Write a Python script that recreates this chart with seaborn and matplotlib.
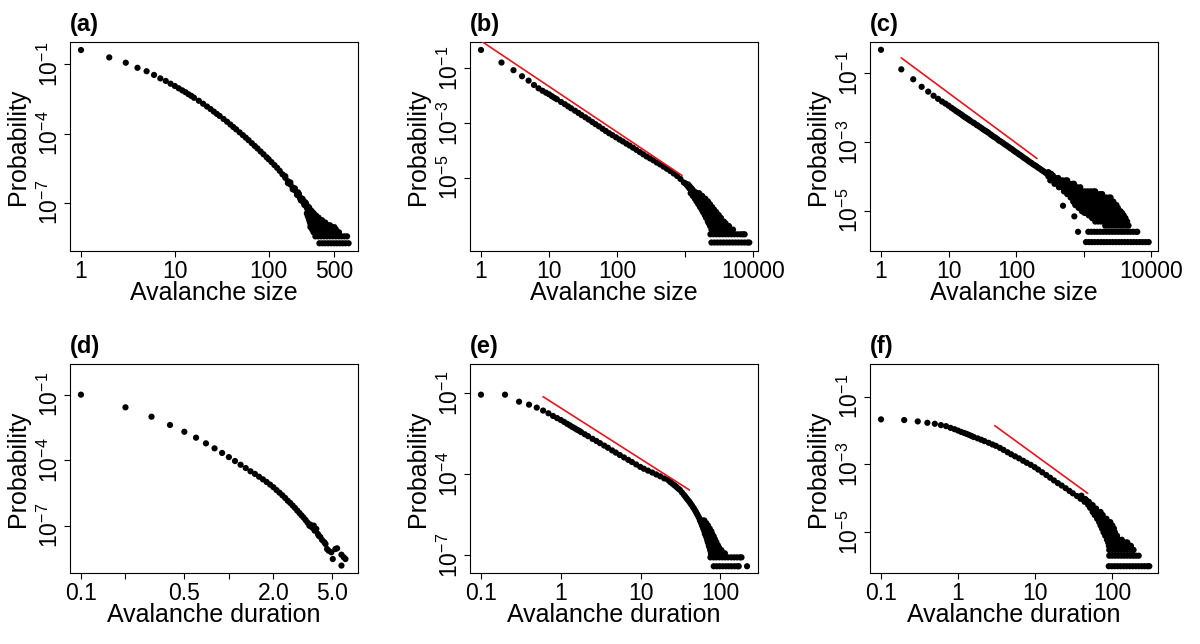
import numpy as np
import matplotlib
matplotlib.use("Agg")
import matplotlib.pyplot as plt
from matplotlib.ticker import NullLocator, FixedLocator, FixedFormatter
import seaborn as sns

# ---------------- data (probabilities stored as log10) ----------------
# Each panel: the main sequence of points, plus the tail "rows" where many
# sizes share the same (small) count, i.e. the same probability level.

# (a) avalanche size
a_size = [
    1, 2, 3, 4, 5, 6, 7, 8, 9, 10,
    11, 12, 13, 14, 15, 16, 18, 20, 22, 24,
    26, 28, 30, 33, 36, 39, 42, 45, 49, 53,
    57, 61, 66, 71, 76, 82, 88, 95, 100, 107,
    115, 123, 131, 140, 150, 160, 170, 180, 190, 200,
    210, 220, 230, 240, 250, 260, 270, 280, 290, 300,
    150, 160, 170, 180, 190, 200, 210, 220, 230, 240,
    250, 260, 270, 280, 290, 300, 300,
    205, 215, 225, 235, 245, 255, 265, 275, 285, 295,
    278,
]
a_logp = [
    -0.38, -0.70, -0.93, -1.15, -1.30, -1.46, -1.61, -1.72, -1.84, -1.94,
    -2.04, -2.13, -2.21, -2.30, -2.37, -2.45, -2.58, -2.71, -2.83, -2.94,
    -3.05, -3.15, -3.24, -3.37, -3.49, -3.61, -3.72, -3.82, -3.95, -4.07,
    -4.18, -4.29, -4.42, -4.54, -4.65, -4.78, -4.90, -5.03, -5.12, -5.24,
    -5.37, -5.49, -5.62, -5.77, -5.92, -6.07, -6.21, -6.34, -6.46, -6.58,
    -6.70, -6.81, -6.91, -7.02, -7.11, -7.21, -7.30, -7.39, -7.48, -7.56,
    -5.85, -6.15, -6.12, -6.42, -6.38, -6.66, -6.62, -6.90, -6.84, -7.10,
    -7.04, -7.30, -7.22, -7.48, -7.40, -7.66, -7.46,
    -6.55, -6.80, -6.82, -7.00, -6.98, -7.22, -7.18, -7.42, -7.35, -7.60,
    -8.06,
]
a_row_logp = [-7.46, -7.56, -7.65, -7.76, -7.86, -7.98, -8.06, -8.16, -8.28, -8.46, -8.76]
a_row_sizes = [
    [255, 275, 300],
    [260, 280, 300, 320],
    [265, 285, 306, 328, 340],
    [270, 291, 313, 337, 370],
    [275, 296, 318, 342, 368, 400],
    [280, 301, 323, 347, 373, 400, 430, 450],
    [285, 306, 329, 353, 379, 407, 437, 469, 500],
    [290, 312, 335, 360, 387, 416, 447, 480, 520],
    [300, 322, 346, 372, 400, 430, 462, 496, 532, 560],
    [314, 337, 362, 389, 418, 449, 482, 518, 556, 597, 641, 684],
    [347, 373, 400, 430, 462, 496, 532, 571, 613, 658, 710],
]

# (b) avalanche size
b_size = [
    1, 2, 3, 4, 5, 6, 7, 8, 9, 10,
    11, 12, 13, 15, 17, 19, 21, 24, 27, 30,
    34, 38, 43, 48, 54, 61, 68, 76, 85, 96,
    108, 121, 136, 152, 171, 192, 215, 241, 270, 303,
    340, 381, 427, 479, 537, 602, 675, 757, 849, 952,
    1000, 1050, 1100, 1150, 1200, 1260, 1330, 1100, 1200, 1300,
    1400, 1250, 1150,
]
b_logp = [
    -0.33, -0.79, -1.07, -1.29, -1.45, -1.61, -1.73, -1.82, -1.89, -1.95,
    -2.02, -2.08, -2.13, -2.23, -2.31, -2.39, -2.46, -2.55, -2.63, -2.71,
    -2.79, -2.87, -2.96, -3.04, -3.12, -3.21, -3.29, -3.37, -3.44, -3.52,
    -3.60, -3.67, -3.75, -3.82, -3.90, -3.98, -4.06, -4.14, -4.22, -4.29,
    -4.36, -4.44, -4.51, -4.59, -4.67, -4.75, -4.84, -4.93, -5.04, -5.17,
    -5.20, -5.26, -5.32, -5.38, -5.44, -5.50, -5.56, -5.24, -5.36, -5.46,
    -5.52, -5.40, -5.30,
]
b_row_logp = [-5.56, -5.66, -5.76, -5.86, -5.96, -6.06, -6.16, -6.25,
              -6.36, -6.46, -6.59, -6.66, -6.76, -6.89, -7.06, -7.36]
b_row_sizes = [
    [1200, 1330, 1470, 1600],
    [1290, 1430, 1580, 1770],
    [1380, 1530, 1690, 1870, 1970],
    [1460, 1620, 1790, 1980, 2150],
    [1550, 1720, 1900, 2100, 2300],
    [1640, 1820, 2010, 2230, 2470],
    [1740, 1930, 2130, 2360, 2650],
    [1820, 2010, 2230, 2470, 2850],
    [1930, 2140, 2370, 2620, 2900, 3100],
    [2020, 2240, 2480, 2740, 3030, 3330],
    [2140, 2370, 2620, 2900, 3210, 3660],
    [2210, 2450, 2710, 3000, 3320, 3680, 3900],
    [2310, 2560, 2830, 3130, 3470, 3840, 4100, 4380],
    [2420, 2680, 2970, 3290, 3640, 4030, 4460, 5020],
    [2340, 2590, 2870, 3180, 3520, 3900, 4310, 4770, 5280, 5850, 6470, 7000, 7430],
    [2420, 2680, 2970, 3290, 3640, 4030, 4460, 4940, 5470, 6050, 6700, 7420, 8210, 8700],
]
b_fit_size = [1, 894]
b_fit_logp = [0.0, -4.913]

# (c) avalanche size
c_size = [
    1, 2, 3, 4, 5, 6, 7, 8, 9, 10,
    11, 12, 13, 14, 15, 16, 17, 18, 19, 20,
    21, 23, 24, 26, 27, 29, 31, 33, 35, 37,
    39, 42, 44, 47, 50, 53, 56, 60, 64, 68,
    72, 77, 82, 87, 92, 98, 104, 110, 117, 124,
    132, 140, 149, 158, 168, 178, 189, 200, 212, 225,
    239, 253, 269, 285, 302, 320, 340, 360, 382, 405,
    430, 455, 482, 510, 542, 575, 330, 380, 420, 470,
    520, 560, 300, 300, 350, 350, 400, 400, 450, 450,
    500, 500, 550, 550, 727, 824, 494,
]
c_logp = [
    -0.31, -0.88, -1.17, -1.39, -1.53, -1.65, -1.74, -1.82, -1.88, -1.94,
    -2.00, -2.05, -2.10, -2.14, -2.18, -2.22, -2.26, -2.29, -2.32, -2.35,
    -2.38, -2.43, -2.45, -2.50, -2.52, -2.56, -2.60, -2.64, -2.67, -2.70,
    -2.73, -2.78, -2.81, -2.85, -2.88, -2.92, -2.96, -2.99, -3.03, -3.07,
    -3.10, -3.14, -3.18, -3.21, -3.25, -3.29, -3.32, -3.36, -3.39, -3.43,
    -3.47, -3.50, -3.54, -3.58, -3.61, -3.65, -3.68, -3.71, -3.75, -3.78,
    -3.82, -3.85, -3.89, -3.92, -3.95, -3.98, -4.02, -4.05, -4.08, -4.12,
    -4.15, -4.18, -4.21, -4.25, -4.28, -4.32, -3.93, -4.12, -4.05, -4.25,
    -4.18, -4.36, -3.88, -4.00, -3.98, -4.08, -4.06, -4.16, -4.12, -4.24,
    -4.18, -4.32, -4.24, -4.38, -5.17, -5.62, -4.86,
]
c_row_logp = [-4.12, -4.22, -4.32, -4.44, -4.52, -4.62, -4.74, -4.84, -4.92,
              -5.02, -5.07, -5.14, -5.22, -5.32, -5.44, -5.62, -5.92]
c_row_sizes = [
    [320, 355, 395, 440, 490, 545, 570],
    [370, 410, 455, 505, 560, 620, 690, 720],
    [430, 475, 530, 585, 650, 720, 800, 890],
    [510, 565, 625, 690, 765, 850, 940, 1040, 1150, 1270, 1400, 1480],
    [570, 630, 700, 775, 860, 950, 1050, 1160, 1290, 1420, 1580, 1750, 1880],
    [640, 710, 785, 870, 960, 1060, 1180, 1300, 1440, 1600, 1770, 1960, 2170, 2400, 2500],
    [700, 775, 860, 950, 1050, 1160, 1290, 1430, 1580, 1750, 1940, 2150, 2380, 2630, 2750],
    [750, 830, 920, 1020, 1130, 1250, 1380, 1530, 1700, 1880, 2080, 2300, 2550, 2820, 3050],
    [840, 930, 1030, 1140, 1260, 1400, 1550, 1710, 1900, 2100, 2320, 2570, 2850, 3200],
    [940, 1040, 1150, 1280, 1410, 1560, 1730, 1920, 2120, 2350, 2600, 2880, 3190, 3500],
    [1030, 1140, 1260, 1400, 1550, 1710, 1900, 2100, 2320, 2570, 2850, 3150, 3490, 3700],
    [1190, 1320, 1460, 1610, 1790, 1980, 2190, 2420, 2680, 2970, 3290, 3640, 3900],
    [1330, 1470, 1630, 1800, 2000, 2210, 2450, 2710, 3000, 3320, 3680, 3900, 4150],
    [1480, 1640, 1810, 2010, 2220, 2460, 2720, 3010, 3340, 3690, 4090, 4400],
    [2080, 2300, 2550, 2820, 3120, 3460, 3830, 4240, 4600],
    [1170, 1300, 1440, 1590, 1760, 1950, 2160, 2390, 2650, 2930, 3250, 3600, 3980,
     4410, 4880, 5400, 5980, 6200],
    [1080, 1200, 1320, 1460, 1620, 1800, 1990, 2200, 2440, 2700, 2990, 3310, 3660,
     4050, 4490, 4970, 5500, 6090, 6740, 7460, 8260, 9150],
]
c_fit_size = [2, 204]
c_fit_logp = [-0.546, -3.483]

# (d) avalanche duration
d_dur = [
    0.1, 0.2, 0.3, 0.4, 0.5, 0.6, 0.7, 0.8, 0.9, 1.0,
    1.1, 1.2, 1.3, 1.4, 1.5, 1.6, 1.7, 1.8, 1.9, 2.0,
    2.1, 2.2, 2.3, 2.4, 2.5, 2.6, 2.7, 2.8, 2.9, 3.0,
    3.1, 3.2, 3.3, 3.4, 3.5, 3.55, 3.6, 3.7, 3.75, 3.8,
    3.9, 4.0, 4.05, 4.15, 4.27, 4.42, 4.5, 4.61, 4.73, 4.93,
    5.04, 5.25, 5.39, 5.77, 5.98, 6.14, 5.77,
]
d_logp = [
    -1.00, -1.58, -2.01, -2.39, -2.70, -2.97, -3.23, -3.46, -3.67, -3.86,
    -4.04, -4.21, -4.36, -4.51, -4.63, -4.76, -4.88, -5.00, -5.12, -5.24,
    -5.37, -5.49, -5.61, -5.73, -5.86, -5.96, -6.08, -6.19, -6.31, -6.42,
    -6.53, -6.63, -6.74, -6.86, -7.00, -6.95, -7.05, -7.11, -7.00, -7.23,
    -7.15, -7.38, -7.46, -7.52, -7.66, -7.76, -7.84, -8.07, -8.15, -8.22,
    -8.53, -8.07, -8.04, -8.33, -8.45, -8.53, -8.83,
]
d_row_logp = []
d_row_sizes = []

# (e) avalanche duration
e_dur = [
    0.1, 0.2, 0.3, 0.4, 0.5, 0.6, 0.7, 0.8, 0.9, 1.0,
    1.1, 1.2, 1.3, 1.4, 1.5, 1.6, 1.7, 1.8, 2.0, 2.2,
    2.5, 2.8, 3.1, 3.5, 3.9, 4.4, 4.9, 5.5, 6.2, 7.0,
    7.8, 8.8, 9.9, 11, 12.4, 14, 15.7, 17.6, 19.8, 22.2,
    23.5, 25, 26.5, 28, 29.5, 31, 33, 35, 36.5, 38,
    39.5, 41, 42.5, 44, 45.5, 47, 48.5, 50, 51.5, 53,
    54.5, 56, 58, 60, 62, 64, 66, 68,
]
e_logp = [
    -1.05, -1.05, -1.31, -1.42, -1.53, -1.64, -1.74, -1.84, -1.92, -1.99,
    -2.06, -2.13, -2.19, -2.25, -2.30, -2.35, -2.39, -2.44, -2.52, -2.59,
    -2.69, -2.77, -2.85, -2.94, -3.02, -3.12, -3.20, -3.29, -3.38, -3.47,
    -3.55, -3.64, -3.73, -3.80, -3.87, -3.94, -4.01, -4.08, -4.16, -4.22,
    -4.29, -4.35, -4.41, -4.47, -4.53, -4.58, -4.68, -4.77, -4.84, -4.91,
    -4.97, -5.03, -5.10, -5.16, -5.23, -5.29, -5.36, -5.43, -5.50, -5.57,
    -5.64, -5.72, -5.80, -5.89, -5.97, -6.06, -6.14, -6.22,
]
e_row_logp = [-5.72, -5.82, -5.91, -6.02, -6.12, -6.22, -6.31, -6.42,
              -6.52, -6.64, -6.72, -6.82, -6.94, -7.09, -7.42]
e_row_sizes = [
    [55.5, 60, 63],
    [57.5, 62.5, 66.6],
    [59, 64, 70],
    [61, 66.5, 73.5],
    [63, 68.5, 74, 77],
    [64, 70, 76, 79],
    [66, 72, 78, 82.5],
    [68, 74, 80.5, 85.5],
    [69.5, 76, 83, 89],
    [71.5, 78, 85, 93],
    [73, 79.5, 86.5, 96],
    [74.5, 81, 88.5, 96.5, 103],
    [76, 83, 90, 98, 107, 114],
    [75, 82, 89, 97, 106, 115, 125, 137, 149, 162, 176, 184],
    [82.6, 90, 98, 107, 117, 127, 138, 151, 164, 170, 216],
]
e_fit_dur = [0.6, 41]
e_fit_logp = [-1.124, -4.589]

# (f) avalanche duration
f_dur = [
    0.1, 0.2, 0.3, 0.4, 0.5, 0.6, 0.7, 0.8, 0.9, 1.0,
    1.1, 1.2, 1.3, 1.4, 1.5, 1.6, 1.8, 2.0, 2.2, 2.5,
    2.8, 3.1, 3.5, 3.9, 4.4, 4.9, 5.5, 6.2, 7.0, 7.8,
    8.8, 9.9, 11, 12.4, 14, 15.7, 17.6, 19.8, 22.2, 25,
    28, 31, 35, 39, 44, 49, 54, 60, 66, 72,
    78, 85,
    46, 42, 40, 45, 48, 53, 50, 52, 56, 58,
    62, 64,
]
f_logp = [
    -1.67, -1.69, -1.73, -1.77, -1.80, -1.84, -1.87, -1.92, -1.96, -2.00,
    -2.04, -2.07, -2.10, -2.13, -2.16, -2.19, -2.23, -2.27, -2.31, -2.36,
    -2.41, -2.45, -2.51, -2.57, -2.64, -2.70, -2.76, -2.82, -2.89, -2.95,
    -3.01, -3.08, -3.15, -3.23, -3.31, -3.39, -3.47, -3.55, -3.62, -3.70,
    -3.78, -3.85, -3.93, -4.01, -4.10, -4.19, -4.26, -4.35, -4.47, -4.60,
    -4.72, -4.84,
    -4.05, -4.02, -3.92, -4.02, -4.12, -4.18, -4.10, -4.28, -4.20, -4.40,
    -4.30, -4.52,
]
f_row_logp = [-4.40, -4.49, -4.60, -4.70, -4.80, -4.89, -5.00, -5.10,
              -5.22, -5.30, -5.40, -5.52, -5.69, -6.00]
f_row_sizes = [
    [56, 61, 66, 71],
    [59.5, 65, 71, 75.6],
    [64, 70, 76.5, 80, 84.6],
    [68, 74.5, 81.5, 89, 95],
    [71, 77.5, 85, 93, 101],
    [74, 81, 88.5, 97, 106],
    [77.5, 85, 93, 101, 109],
    [81.5, 89, 97.5, 106.5, 116],
    [86, 94, 103, 112.5, 123, 134],
    [89, 97.5, 106.5, 116.5, 127.5, 139.5, 152.5, 158],
    [91, 99.5, 109, 119, 130, 142, 155.5, 170, 176],
    [92, 100.5, 110, 120.5, 132, 144, 157.5, 172, 188, 190],
    [92, 100.5, 110, 120.5, 132, 144, 157.5, 172, 188, 205, 222],
    [90.6, 99, 108.5, 118.5, 129.5, 142, 155, 169.5, 185.5, 203, 222, 243, 265, 290, 305],
]
f_fit_dur = [3.0, 48.3]
f_fit_logp = [-1.855, -3.85]

panel_names = ["(a)", "(b)", "(c)", "(d)", "(e)", "(f)"]
x_titles = ["Avalanche size"] * 3 + ["Avalanche duration"] * 3
y_title = "Probability"

size_ticks = [1, 10, 100, 1000, 10000]
size_tick_labels = ["1", "10", "100", "", "10000"]
dur_ticks = [0.1, 1, 10, 100]
dur_tick_labels = ["0.1", "1", "10", "100"]

# ---------------- style ----------------
sns.set_theme(style="ticks")
plt.rcParams["font.family"] = ["Liberation Sans", "DejaVu Sans"]
plt.rcParams["mathtext.fontset"] = "custom"
plt.rcParams["mathtext.rm"] = "Liberation Sans"
plt.rcParams["mathtext.it"] = "Liberation Sans:italic"
plt.rcParams["mathtext.bf"] = "Liberation Sans:bold"
plt.rcParams["axes.linewidth"] = 0.8
plt.rcParams["axes.edgecolor"] = "black"

panels = [
    dict(x=a_size, y=a_logp, rows=(a_row_sizes, a_row_logp), fit=None,
         xlim=(-0.114, 2.948), ylim=(-9.095, -0.032),
         xt=[1, 10, 100, 500], xl=["1", "10", "100", "500"], yt=[-1, -4, -7]),
    dict(x=b_size, y=b_logp, rows=(b_row_sizes, b_row_logp), fit=(b_fit_size, b_fit_logp),
         xlim=(-0.157, 4.063), ylim=(-7.67, -0.04),
         xt=size_ticks, xl=size_tick_labels, yt=[-1, -3, -5]),
    dict(x=c_size, y=c_logp, rows=(c_row_sizes, c_row_logp), fit=(c_fit_size, c_fit_logp),
         xlim=(-0.158, 4.095), ylim=(-6.18, -0.082),
         xt=size_ticks, xl=size_tick_labels, yt=[-1, -3, -5]),
    dict(x=d_dur, y=d_logp, rows=(d_row_sizes, d_row_logp), fit=None,
         xlim=(-1.072, 0.871), ylim=(-9.17, 0.405),
         xt=[0.1, 0.2, 0.5, 1.0, 2.0, 5.0], xl=["0.1", "", "0.5", "", "2.0", "5.0"],
         yt=[-1, -4, -7]),
    dict(x=e_dur, y=e_logp, rows=(e_row_sizes, e_row_logp), fit=(e_fit_dur, e_fit_logp),
         xlim=(-1.134, 2.468), ylim=(-7.67, 0.089),
         xt=dur_ticks, xl=dur_tick_labels, yt=[-1, -4, -7]),
    dict(x=f_dur, y=f_logp, rows=(f_row_sizes, f_row_logp), fit=(f_fit_dur, f_fit_logp),
         xlim=(-1.139, 2.593), ylim=(-6.20, -0.037),
         xt=dur_ticks, xl=dur_tick_labels, yt=[-1, -3, -5]),
]

W_FIG, H_FIG = 1200, 644
fig = plt.figure(figsize=(12, 6.44), dpi=100)
fig.patch.set_facecolor("white")
lefts = [70.3, 470.3, 870.3]
tops = [42, 364]
W, H = 287.4, 209

for i, p in enumerate(panels):
    r, c = divmod(i, 3)
    assert len(p["x"]) == len(p["y"]), (i, len(p["x"]), len(p["y"]))
    xs = list(p["x"])
    ys = list(p["y"])
    for row_sizes, level in zip(*p["rows"]):
        xs.extend(row_sizes)
        ys.extend([level] * len(row_sizes))
    xs = np.array(xs, dtype=float)
    ys = 10.0 ** np.array(ys, dtype=float)

    ax = fig.add_axes([lefts[c] / W_FIG, 1 - (tops[r] + H) / H_FIG, W / W_FIG, H / H_FIG])
    ax.set_facecolor("white")
    ax.set_xscale("log")
    ax.set_yscale("log")
    sns.scatterplot(x=xs, y=ys, ax=ax, s=20, color="black", linewidth=0,
                    edgecolor="none", zorder=3)
    if p["fit"] is not None:
        fx = np.array(p["fit"][0], dtype=float)
        fy = 10.0 ** np.array(p["fit"][1], dtype=float)
        sns.lineplot(x=fx, y=fy, ax=ax, color="#e8141b", linewidth=1.2,
                     estimator=None, sort=False, zorder=4)
    ax.set_xlim(10 ** p["xlim"][0], 10 ** p["xlim"][1])
    ax.set_ylim(10 ** p["ylim"][0], 10 ** p["ylim"][1])

    ax.xaxis.set_major_locator(FixedLocator(p["xt"]))
    ax.xaxis.set_major_formatter(FixedFormatter(p["xl"]))
    ax.xaxis.set_minor_locator(NullLocator())
    yt = [10.0 ** e for e in p["yt"]]
    ax.yaxis.set_major_locator(FixedLocator(yt))
    ax.yaxis.set_major_formatter(FixedFormatter(["$10^{%d}$" % e for e in p["yt"]]))
    ax.yaxis.set_minor_locator(NullLocator())

    ax.tick_params(axis="both", direction="out", length=4.2, width=0.8,
                   color="black", labelcolor="black", labelsize=16.5)
    ax.tick_params(axis="x", pad=2.5)
    ax.tick_params(axis="y", pad=1.0, labelrotation=90)
    for lab in ax.get_yticklabels():
        lab.set_verticalalignment("center")

    for sp in ax.spines.values():
        sp.set_visible(True)
        sp.set_color("black")
        sp.set_linewidth(0.8)

    ax.set_xlabel(x_titles[i], fontsize=18, color="black")
    ax.xaxis.set_label_coords(0.5, -0.145)
    ax.set_ylabel(y_title, fontsize=18, color="black")
    ax.yaxis.set_label_coords(-0.140, 0.5)

    ax.annotate(panel_names[i], xy=(0, 1), xycoords="axes fraction",
                xytext=(0, 8), textcoords="offset points",
                ha="left", va="baseline", fontsize=17, fontweight="bold",
                color="black")

fig.savefig("out.png", dpi=100, facecolor="white")
